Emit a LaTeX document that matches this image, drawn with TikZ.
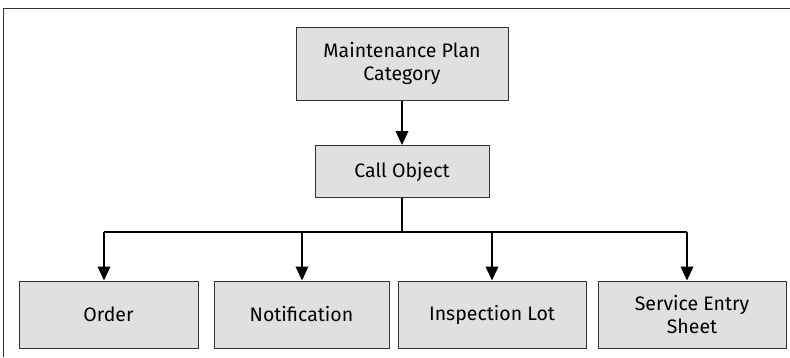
\documentclass[tikz,border=0pt]{standalone}
\usepackage{fontspec}
\setmainfont{Fira Sans}
\usetikzlibrary{arrows.meta}
\definecolor{boxfill}{HTML}{E0E0E0}
\definecolor{boxline}{HTML}{333333}
\tikzset{
  box/.style={draw=boxline, line width=1pt, fill=boxfill, inner sep=0pt, align=center, font=\fontsize{19.5}{23}\selectfont},
  conn/.style={line width=2pt, draw=black},
  arr/.style={conn, -{Triangle[length=14pt,width=12.5pt]}},
}
\begin{document}
\begin{tikzpicture}[x=1pt,y=-1pt]
\useasboundingbox (0,0) rectangle (790,357);
\draw[line width=1.2pt, draw=boxline] (3.5,357) -- (3.5,8.5) -- (790,8.5);
\node[box, minimum width=212pt, minimum height=73pt] (mpc) at (402,63.5) {Maintenance Plan\\Category};
\node[box, minimum width=174pt, minimum height=52pt] (co) at (402,171.5) {Call Object};
\node[box, minimum width=179pt, minimum height=67pt] (ord) at (108.5,314.5) {Order};
\node[box, minimum width=175pt, minimum height=67pt] (not) at (301.5,314.5) {Notification};
\node[box, minimum width=188pt, minimum height=67pt] (ins) at (492,314.5) {Inspection Lot};
\node[box, minimum width=188pt, minimum height=67pt] (ses) at (692,314.5) {Service Entry\\Sheet};
\coordinate (j) at (402,232);
\coordinate (jl) at (104,232);
\coordinate (jm) at (302,232);
\coordinate (jr) at (687,232);
\draw[arr] (mpc.south) -- (co.north);
\draw[conn] (co.south) -- (j);
\draw[conn] (jl) -- (jr);
\draw[arr] (jl) -- (jl |- ord.north);
\draw[arr] (jm) -- (jm |- not.north);
\draw[arr] (492,232) -- (ins.north);
\draw[arr] (jr) -- (jr |- ses.north);
\end{tikzpicture}
\end{document}
